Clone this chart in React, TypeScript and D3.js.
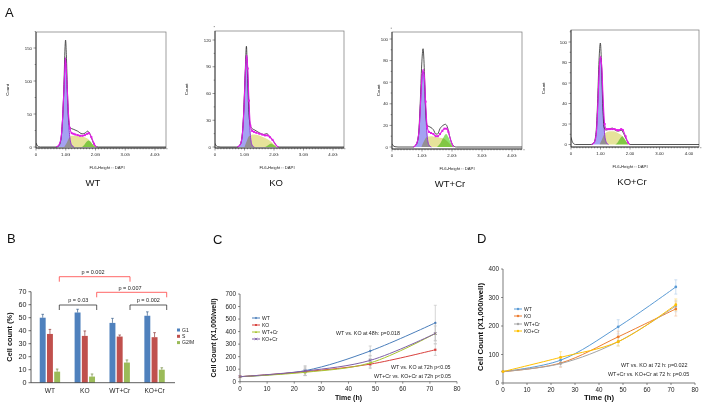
import React from 'react';
import * as d3 from 'd3';

type Pt = [number, number];
const FONT = 'Liberation Sans, Arial, Helvetica, sans-serif';

// ================= Panel A: cell-cycle histograms =================
const histGroups = ['WT', 'KO', 'WT+Cr', 'KO+Cr'];
const histXLabel = 'FL6-Height :: DAPI';
const histXTickLabelsG = ['0', '1.0G', '2.0G', '3.0G', '4.0G'];
const histXTickLabels0 = ['0', '1.00', '2.00', '3.00', '4.00'];
const histYTicksWT = [0, 50, 100, 150];
const histYTicksKO = [0, 30, 60, 90, 120];
const histYTicksWTCr = [0, 20, 40, 60, 80, 100];
const histYTicksKOCr = [0, 20, 40, 60, 80, 100];

const rawWT: Pt[] = [[0, 6], [0.03, 3], [0.08, 0.5], [0.15, 0], [0.68, 0], [0.77, 2], [0.84, 12], [0.89, 40], [0.94, 95], [0.975, 150], [0.995, 162], [1.02, 140], [1.06, 80], [1.1, 40], [1.15, 29], [1.25, 27], [1.4, 24], [1.55, 20], [1.65, 21], [1.73, 24], [1.8, 21], [1.88, 12], [1.95, 4], [2.03, 0.5], [2.1, 0], [4.4, 0]];
const g1WT: Pt[] = [[0.68, 0], [0.77, 3], [0.84, 13], [0.89, 40], [0.94, 88], [0.99, 135], [1.04, 92], [1.09, 42], [1.14, 14], [1.2, 3], [1.28, 0]];
const sWT: Pt[] = [[0.95, 0], [1.03, 6], [1.1, 13], [1.2, 17], [1.4, 17], [1.6, 15], [1.75, 12], [1.85, 7], [1.95, 2], [2.02, 0]];
const g2WT: Pt[] = [[1.55, 0], [1.62, 3], [1.7, 8], [1.77, 10], [1.84, 8], [1.9, 4], [1.97, 1], [2.03, 0]];
const fitWT: Pt[] = [[0.68, 0], [0.77, 3], [0.84, 13], [0.89, 40], [0.94, 88], [0.99, 135], [1.04, 98], [1.09, 52], [1.14, 28], [1.2, 21], [1.26, 20], [1.32, 19], [1.4, 18], [1.48, 17], [1.56, 17], [1.64, 18], [1.72, 20], [1.78, 21], [1.86, 15], [1.95, 5], [2.03, 0]];

const rawKO: Pt[] = [[0, 4], [0.03, 2], [0.1, 0.3], [0.2, 0], [0.74, 0], [0.84, 2], [0.91, 10], [0.97, 38], [1.02, 80], [1.065, 113], [1.1, 82], [1.145, 42], [1.19, 25], [1.25, 21], [1.35, 19], [1.5, 16], [1.65, 14], [1.75, 15], [1.85, 12], [1.95, 8], [2.03, 4], [2.1, 1], [2.17, 0], [4.4, 0]];
const g1KO: Pt[] = [[0.76, 0], [0.86, 3], [0.93, 15], [0.99, 50], [1.03, 85], [1.07, 103], [1.11, 83], [1.15, 45], [1.2, 13], [1.26, 2], [1.33, 0]];
const sKO: Pt[] = [[1.0, 0], [1.08, 7], [1.15, 12], [1.3, 14], [1.5, 13], [1.7, 10], [1.9, 6], [2.0, 3], [2.1, 0]];
const g2KO: Pt[] = [[1.7, 0], [1.8, 2], [1.9, 4], [2.0, 2], [2.08, 0]];
const fitKO: Pt[] = [[0.76, 0], [0.86, 3], [0.93, 15], [0.99, 50], [1.03, 85], [1.07, 103], [1.11, 88], [1.15, 52], [1.2, 24], [1.26, 18], [1.32, 17], [1.4, 16], [1.5, 15], [1.6, 14], [1.7, 13], [1.78, 13], [1.86, 11], [1.95, 8], [2.03, 4], [2.1, 1], [2.16, 0]];

const rawWTCr: Pt[] = [[0, 3], [0.03, 1.5], [0.1, 0.3], [0.2, 0], [0.7, 0], [0.8, 2], [0.88, 10], [0.94, 40], [0.99, 76], [1.035, 91], [1.08, 70], [1.12, 36], [1.17, 20], [1.23, 19], [1.3, 18], [1.38, 16], [1.46, 12], [1.52, 12], [1.6, 17], [1.7, 20], [1.78, 21], [1.84, 19], [1.92, 10], [2.0, 3], [2.08, 0.5], [2.15, 0], [4.4, 0]];
const g1WTCr: Pt[] = [[0.72, 0], [0.82, 3], [0.9, 15], [0.96, 45], [1.0, 64], [1.04, 70], [1.08, 60], [1.12, 35], [1.17, 11], [1.23, 2], [1.31, 0]];
const sWTCr: Pt[] = [[0.98, 0], [1.06, 5], [1.15, 9], [1.3, 10], [1.5, 9], [1.7, 8], [1.85, 5], [1.95, 2], [2.02, 0]];
const g2WTCr: Pt[] = [[1.5, 0], [1.6, 3], [1.7, 8], [1.8, 12], [1.88, 9], [1.96, 4], [2.05, 0]];
const fitWTCr: Pt[] = [[0.72, 0], [0.82, 3], [0.9, 15], [0.96, 46], [1.0, 66], [1.04, 72], [1.08, 65], [1.12, 42], [1.17, 19], [1.23, 14], [1.3, 13], [1.38, 12], [1.46, 10], [1.53, 10], [1.6, 12], [1.68, 15], [1.75, 17], [1.82, 17], [1.88, 14], [1.96, 6], [2.05, 0]];

const rawKOCr: Pt[] = [[0, 7], [0.03, 4], [0.08, 1], [0.15, 0], [0.68, 0], [0.78, 2], [0.85, 12], [0.9, 40], [0.95, 82], [0.995, 99], [1.03, 82], [1.075, 40], [1.12, 17], [1.18, 14], [1.28, 15], [1.4, 16], [1.5, 14], [1.6, 13], [1.7, 14], [1.78, 11], [1.86, 6], [1.93, 2], [2.0, 0], [4.4, 0]];
const g1KOCr: Pt[] = [[0.7, 0], [0.79, 2], [0.86, 12], [0.91, 40], [0.955, 72], [1.0, 85], [1.045, 70], [1.09, 36], [1.14, 10], [1.2, 2], [1.27, 0]];
const sKOCr: Pt[] = [[0.97, 0], [1.05, 5], [1.15, 11], [1.3, 13], [1.45, 13], [1.6, 11], [1.75, 8], [1.85, 4], [1.93, 1], [2.0, 0]];
const g2KOCr: Pt[] = [[1.5, 0], [1.58, 2], [1.67, 6], [1.74, 8], [1.8, 6], [1.87, 3], [1.95, 0]];
const fitKOCr: Pt[] = [[0.7, 0], [0.79, 2], [0.86, 12], [0.91, 40], [0.955, 72], [1.0, 86], [1.045, 75], [1.09, 44], [1.14, 20], [1.2, 15], [1.26, 15], [1.32, 15], [1.4, 15], [1.48, 15], [1.56, 14], [1.63, 14], [1.7, 15], [1.76, 14], [1.85, 8], [1.93, 2], [2.0, 0]];

// ================= Panel B: bar chart =================
const barCats = ['WT', 'KO', 'WT+Cr', 'KO+Cr'];
const barSeries = ['G1', 'S', 'G2/M'];
const barColors = ['#4f81bd', '#c0504d', '#9bbb59'];
const g1Vals = [50, 54, 46, 51.5];
const g1Errs = [2.6, 2.5, 3.5, 3];
const sVals = [37.5, 36, 35.5, 35];
const sErrs = [3.5, 3.8, 1.2, 3.5];
const g2Vals = [8.5, 4.7, 15.5, 10];
const g2Errs = [2, 2, 2, 1.5];
const barYTicks = [0, 10, 20, 30, 40, 50, 60, 70];

// ================= Panel C: growth curves =================
const timesC = [0, 24, 48, 72];
const seriesNames = ['WT', 'KO', 'WT+Cr', 'KO+Cr'];
const wtC = [40, 88, 245, 470];
const koC = [40, 80, 140, 255];
const wtCrC = [40, 75, 150, 385];
const koCrC = [40, 85, 170, 385];
const wtCErr = [0, 40, 40, 140];
const koCErr = [0, 30, 35, 45];
const wtCrCErr = [0, 25, 35, 60];
const koCrCErr = [0, 35, 40, 80];
const colorsC = ['#4a7ebb', '#d9403c', '#a8c430', '#7e5fa6'];
const yTicksC = [0, 100, 200, 300, 400, 500, 600, 700];
const xTicksLine = [0, 10, 20, 30, 40, 50, 60, 70, 80];
const notesC = ['WT vs. KO at 48h: p=0.018', 'WT vs. KO at 72h p<0.05', 'WT+Cr vs. KO+Cr at 72h p<0.05'];

// ================= Panel D: growth curves =================
const timesD = [0, 24, 48, 72];
const wtD = [40, 80, 197, 337];
const koD = [40, 70, 162, 260];
const wtCrD = [40, 68, 145, 270];
const koCrD = [40, 90, 145, 275];
const wtDErr = [0, 12, 25, 25];
const koDErr = [0, 15, 20, 25];
const wtCrDErr = [0, 10, 15, 20];
const koCrDErr = [0, 20, 15, 20];
const colorsD = ['#5b9bd5', '#ed7d31', '#a5a5a5', '#ffc000'];
const yTicksD = [0, 100, 200, 300, 400];
const notesD = ['WT vs. KO at 72 h: p=0.022', 'WT+Cr vs. KO+Cr at 72 h: p=0.05'];

// ---------------- Histogram component ----------------
type HistCfg = {
  name: string; raw: Pt[]; g1: Pt[]; s: Pt[]; g2: Pt[]; fit: Pt[]; yTicks: number[]; xLabels: string[];
  fx0: number; fx1: number; fy0: number; fy1: number; x0: number; x4: number; y0: number; yTopPos: number;
  countX: number; labelX: number; subX: number; idx: number;
};

function Hist({ c }: { c: HistCfg }) {
  const x = d3.scaleLinear().domain([0, 4]).range([c.x0, c.x4]);
  const top = c.yTicks[c.yTicks.length - 1];
  const y = d3.scaleLinear().domain([0, top]).range([c.y0, c.yTopPos]);
  const area = d3.area<Pt>().x(d => x(d[0])).y0(y(0)).y1(d => y(d[1])).curve(d3.curveMonotoneX);
  const line = d3.line<Pt>().x(d => x(d[0])).y(d => y(d[1])).curve(d3.curveMonotoneX);
  const clipId = `hclip${c.idx}`;
  const minorX = d3.range(0, 4.41, 0.1);
  const step = c.yTicks[1] - c.yTicks[0];
  const minorY = d3.range(0, top + step * 0.6, step / 2);
  const mid = (c.fy0 + c.fy1) / 2;
  return (
    <g>
      <defs>
        <clipPath id={clipId}><rect x={c.fx0} y={c.fy0} width={c.fx1 - c.fx0} height={c.fy1 - c.fy0} /></clipPath>
      </defs>
      <rect x={c.fx0} y={c.fy0} width={c.fx1 - c.fx0} height={c.fy1 - c.fy0} fill="#fff" stroke="#777" strokeWidth={0.7} />
      <g clipPath={`url(#${clipId})`}>
        <path d={area(c.s) || ''} fill="#e6e39a" style={{ mixBlendMode: 'multiply' }} />
        <path d={area(c.g2) || ''} fill="#8fe070" style={{ mixBlendMode: 'multiply' }} />
        <path d={area(c.g1) || ''} fill="#a4a2f2" style={{ mixBlendMode: 'multiply' }} />
        <path d={line(c.g1) || ''} fill="none" stroke="#9a2fd6" strokeWidth={1.0} />
        <path d={line(c.raw) || ''} fill="none" stroke="#2a2a2a" strokeWidth={0.8} />
        <path d={line(c.fit) || ''} fill="none" stroke="#e11ee6" strokeWidth={1.1} />
        {c.fit.filter(p => p[0] >= 1.1 && p[0] <= 1.95).map((p, i) => (
          <rect key={i} x={x(p[0]) - 1} y={y(p[1]) - 1} width={2} height={2} fill="#e11ee6" />
        ))}
      </g>
      {/* axes */}
      <line x1={c.fx0} x2={c.fx0} y1={c.fy0} y2={c.fy1} stroke="#222" strokeWidth={0.8} />
      <line x1={c.fx0} x2={c.fx1} y1={c.fy1} y2={c.fy1} stroke="#222" strokeWidth={0.8} />
      {minorX.map((v, i) => (
        <line key={`mx${i}`} x1={x(v)} x2={x(v)} y1={c.fy1} y2={c.fy1 + (Math.abs(v - Math.round(v)) < 1e-6 ? 2.5 : 1.3)} stroke="#333" strokeWidth={0.5} />
      ))}
      {minorY.map((v, i) => (
        <line key={`my${i}`} x1={c.fx0} x2={c.fx0 - (i % 2 === 0 ? 2.5 : 1.3)} y1={y(v)} y2={y(v)} stroke="#333" strokeWidth={0.5} />
      ))}
      {c.yTicks.map(v => (
        <text key={`yt${v}`} x={c.fx0 - 4} y={y(v) + 1.5} fontSize={4.3} textAnchor="end" fill="#222" fontFamily={FONT}>{v}</text>
      ))}
      {c.xLabels.map((t, i) => (
        <text key={`xt${i}`} x={x(i)} y={c.fy1 + 7.5} fontSize={4.3} textAnchor="middle" fill="#222" fontFamily={FONT}>{t}</text>
      ))}
      <text x={c.subX} y={c.fy1 + 21} fontSize={4.2} textAnchor="middle" fill="#222" fontFamily={FONT}>{histXLabel}</text>
      <text transform={`translate(${c.countX},${mid}) rotate(-90)`} fontSize={4.4} textAnchor="middle" fill="#222" fontFamily={FONT}>Count</text>
      <text x={c.labelX} y={c.fy1 + 38} fontSize={9.5} textAnchor="middle" fill="#111" fontFamily={FONT}>{c.name}</text>
    </g>
  );
}

// ---------------- Line chart component ----------------
type LineCfg = {
  xr: [number, number]; yr: [number, number]; yDomain: number; yTicks: number[];
  times: number[]; series: number[][]; errs: number[][]; colors: string[]; errColors: string[];
  fs: number; titleFs: number; titleX: number; titleY: number; timeY: number;
  legX: number; legY: number[]; legFs: number; notes: string[]; noteX: number[]; noteY: number[]; noteFs: number;
  markers: string[];
};

function Marker({ type, cx, cy, color, s }: { type: string; cx: number; cy: number; color: string; s: number }) {
  if (type === 'diamond') return <path d={`M${cx},${cy - s} L${cx + s},${cy} L${cx},${cy + s} L${cx - s},${cy} Z`} fill={color} />;
  if (type === 'square') return <rect x={cx - s * 0.8} y={cy - s * 0.8} width={s * 1.6} height={s * 1.6} fill={color} />;
  if (type === 'triangle') return <path d={`M${cx},${cy - s} L${cx + s},${cy + s * 0.8} L${cx - s},${cy + s * 0.8} Z`} fill={color} />;
  if (type === 'x') return <path d={`M${cx - s},${cy - s} L${cx + s},${cy + s} M${cx - s},${cy + s} L${cx + s},${cy - s}`} stroke={color} strokeWidth={0.8} />;
  return <circle cx={cx} cy={cy} r={s} fill={color} />;
}

function LineChart({ c }: { c: LineCfg }) {
  const x = d3.scaleLinear().domain([0, 80]).range(c.xr);
  const y = d3.scaleLinear().domain([0, c.yDomain]).range(c.yr);
  const line = d3.line<number>().x((_, i) => x(c.times[i])).y(d => y(d)).curve(d3.curveCatmullRom.alpha(0.5));
  return (
    <g fontFamily={FONT}>
      {c.series.map((s, si) => s.map((v, i) => c.errs[si][i] > 0 ? (
        <g key={`e${si}-${i}`} stroke={c.errColors[si]} strokeWidth={0.7}>
          <line x1={x(c.times[i])} x2={x(c.times[i])} y1={y(v - c.errs[si][i])} y2={y(v + c.errs[si][i])} />
          <line x1={x(c.times[i]) - 1.5} x2={x(c.times[i]) + 1.5} y1={y(v - c.errs[si][i])} y2={y(v - c.errs[si][i])} />
          <line x1={x(c.times[i]) - 1.5} x2={x(c.times[i]) + 1.5} y1={y(v + c.errs[si][i])} y2={y(v + c.errs[si][i])} />
        </g>
      ) : null))}
      <line x1={c.xr[0]} x2={c.xr[0]} y1={c.yr[0]} y2={c.yr[1]} stroke="#444" strokeWidth={0.7} />
      <line x1={c.xr[0]} x2={c.xr[1]} y1={c.yr[0]} y2={c.yr[0]} stroke="#444" strokeWidth={0.7} />
      {c.yTicks.map(v => (
        <g key={`y${v}`}>
          <line x1={c.xr[0] - 2} x2={c.xr[0]} y1={y(v)} y2={y(v)} stroke="#444" strokeWidth={0.6} />
          <text x={c.xr[0] - 4} y={y(v) + c.fs * 0.35} fontSize={c.fs} textAnchor="end" fill="#222">{v}</text>
        </g>
      ))}
      {xTicksLine.map(v => (
        <g key={`x${v}`}>
          <line x1={x(v)} x2={x(v)} y1={c.yr[0]} y2={c.yr[0] + 2} stroke="#444" strokeWidth={0.6} />
          <text x={x(v)} y={c.yr[0] + 3 + c.fs} fontSize={c.fs} textAnchor="middle" fill="#222">{v}</text>
        </g>
      ))}
      <text x={(c.xr[0] + c.xr[1]) / 2} y={c.timeY} fontSize={c.titleFs} fontWeight="bold" textAnchor="middle" fill="#111">Time (h)</text>
      <text transform={`translate(${c.titleX},${c.titleY}) rotate(-90)`} fontSize={c.titleFs} fontWeight="bold" textAnchor="middle" fill="#111">Cell Count (X1,000/well)</text>
      {c.series.map((s, si) => (
        <g key={`l${si}`}>
          <path d={line(s) || ''} fill="none" stroke={c.colors[si]} strokeWidth={1} />
          {s.map((v, i) => <Marker key={i} type={c.markers[si]} cx={x(c.times[i])} cy={y(v)} color={c.colors[si]} s={1.4} />)}
        </g>
      ))}
      {seriesNames.map((n, i) => (
        <g key={`lg${i}`}>
          <line x1={c.legX} x2={c.legX + 8} y1={c.legY[i]} y2={c.legY[i]} stroke={c.colors[i]} strokeWidth={1} />
          <Marker type={c.markers[i]} cx={c.legX + 4} cy={c.legY[i]} color={c.colors[i]} s={1.2} />
          <text x={c.legX + 10} y={c.legY[i] + c.legFs * 0.35} fontSize={c.legFs} fill="#222">{n}</text>
        </g>
      ))}
      {c.notes.map((t, i) => (
        <text key={`n${i}`} x={c.noteX[i]} y={c.noteY[i]} fontSize={c.noteFs} fill="#222">{t}</text>
      ))}
    </g>
  );
}

// ---------------- Bar chart ----------------
function BarChart() {
  const x = d3.scaleBand<string>().domain(barCats).range([32.5, 172]);
  const inner = d3.scaleBand<string>().domain(barSeries).range([-10.2, 10.2]).paddingInner(0.18);
  const y = d3.scaleLinear().domain([0, 70]).range([382.7, 291.7]);
  const vals = [g1Vals, sVals, g2Vals];
  const errs = [g1Errs, sErrs, g2Errs];
  const dark = ['#385d8a', '#8c3836', '#71893f'];
  const brackets = [
    { x1: 59.3, x2: 130, yb: 276.7, col: '#ff4040', label: 'p = 0.002', tx: 93, ty: 274.3 },
    { x1: 96.7, x2: 166.7, yb: 292.3, col: '#ff4040', label: 'p = 0.007', tx: 130, ty: 290 },
    { x1: 59.3, x2: 96.7, yb: 305, col: '#333', label: 'p = 0.03', tx: 78.3, ty: 302.2 },
    { x1: 130, x2: 166.7, yb: 305, col: '#333', label: 'p = 0.002', tx: 148.3, ty: 302.2 },
  ];
  return (
    <g fontFamily={FONT}>
      {barCats.map((cat, ci) => barSeries.map((s, si) => {
        const bx = (x(cat) || 0) + x.bandwidth() / 2 + (inner(s) || 0);
        const v = vals[si][ci];
        const e = errs[si][ci];
        const cx = bx + inner.bandwidth() / 2;
        return (
          <g key={`${cat}-${s}`}>
            <rect x={bx} y={y(v)} width={inner.bandwidth()} height={y(0) - y(v)} fill={barColors[si]} />
            <line x1={cx} x2={cx} y1={y(v)} y2={y(v + e)} stroke={dark[si]} strokeWidth={0.7} />
            <line x1={cx - 1.3} x2={cx + 1.3} y1={y(v + e)} y2={y(v + e)} stroke={dark[si]} strokeWidth={0.7} />
          </g>
        );
      }))}
      <line x1={31} x2={31} y1={291.7} y2={382.7} stroke="#333" strokeWidth={0.8} />
      <line x1={31} x2={175} y1={382.7} y2={382.7} stroke="#333" strokeWidth={0.8} />
      {barYTicks.map(v => (
        <g key={v}>
          <line x1={28.5} x2={31} y1={y(v)} y2={y(v)} stroke="#333" strokeWidth={0.7} />
          <text x={26.5} y={y(v) + 2.5} fontSize={7.2} textAnchor="end" fill="#222">{v}</text>
        </g>
      ))}
      {barCats.map(cat => (
        <text key={cat} x={(x(cat) || 0) + x.bandwidth() / 2} y={393} fontSize={6.6} textAnchor="middle" fill="#222">{cat}</text>
      ))}
      <text transform="translate(12,337) rotate(-90)" fontSize={7.4} fontWeight="bold" textAnchor="middle" fill="#111">Cell count (%)</text>
      {barSeries.map((s, i) => (
        <g key={s}>
          <rect x={177} y={328.5 + i * 6.3} width={3} height={3} fill={barColors[i]} />
          <text x={182} y={331.5 + i * 6.3} fontSize={5} fill="#222">{s}</text>
        </g>
      ))}
      {brackets.map((b, i) => (
        <g key={i}>
          <path d={`M${b.x1},${b.yb + 5} V${b.yb} H${b.x2} V${b.yb + 5}`} fill="none" stroke={b.col} strokeWidth={0.8} />
          <text x={b.tx} y={b.ty} fontSize={5.5} textAnchor="middle" fill="#222">{b.label}</text>
        </g>
      ))}
    </g>
  );
}

export default function App() {
  const geoms = [
    { fx0: 36, fx1: 166, fy0: 32, fy1: 148, x0: 36, x4: 155, y0: 147, yTopPos: 48, countX: 8.5, labelX: 93, subX: 107 },
    { fx0: 215, fx1: 344, fy0: 31, fy1: 148, x0: 215, x4: 333, y0: 147, yTopPos: 40, countX: 187.5, labelX: 276, subX: 277 },
    { fx0: 392, fx1: 522, fy0: 32, fy1: 149, x0: 392, x4: 512, y0: 147, yTopPos: 39, countX: 380, labelX: 450, subX: 457 },
    { fx0: 571, fx1: 699, fy0: 30, fy1: 147, x0: 571, x4: 689, y0: 144.5, yTopPos: 42, countX: 544.5, labelX: 632, subX: 630 },
  ];
  const data = [
    { raw: rawWT, g1: g1WT, s: sWT, g2: g2WT, fit: fitWT, yTicks: histYTicksWT, xLabels: histXTickLabelsG },
    { raw: rawKO, g1: g1KO, s: sKO, g2: g2KO, fit: fitKO, yTicks: histYTicksKO, xLabels: histXTickLabelsG },
    { raw: rawWTCr, g1: g1WTCr, s: sWTCr, g2: g2WTCr, fit: fitWTCr, yTicks: histYTicksWTCr, xLabels: histXTickLabelsG },
    { raw: rawKOCr, g1: g1KOCr, s: sKOCr, g2: g2KOCr, fit: fitKOCr, yTicks: histYTicksKOCr, xLabels: histXTickLabels0 },
  ];
  const cfgC: LineCfg = {
    xr: [240, 457], yr: [381.7, 294], yDomain: 700, yTicks: yTicksC, times: timesC,
    series: [wtC, koC, wtCrC, koCrC], errs: [wtCErr, koCErr, wtCrCErr, koCrCErr], colors: colorsC,
    errColors: ['#c4c4c4', '#c4c4c4', '#c4c4c4', '#c4c4c4'],
    fs: 6.3, titleFs: 7, titleX: 216, titleY: 338, timeY: 400,
    legX: 252, legY: [318, 325, 332, 339], legFs: 5, notes: notesC,
    noteX: [336, 391, 374], noteY: [335, 369, 378], noteFs: 5.3,
    markers: ['diamond', 'square', 'triangle', 'x'],
  };
  const cfgD: LineCfg = {
    xr: [503, 695], yr: [383, 269], yDomain: 400, yTicks: yTicksD, times: timesD,
    series: [wtD, koD, wtCrD, koCrD], errs: [wtDErr, koDErr, wtCrDErr, koCrDErr], colors: colorsD,
    errColors: ['#b8d2ee', '#f5c4a2', '#d4d4d4', '#ffe08a'],
    fs: 6.3, titleFs: 7.8, titleX: 483, titleY: 327, timeY: 400,
    legX: 514, legY: [309, 316, 324, 331], legFs: 5, notes: notesD,
    noteX: [621, 608], noteY: [367, 376], noteFs: 5.4,
    markers: ['circle', 'circle', 'circle', 'circle'],
  };
  return (
    <svg width={704} height={407} style={{ position: 'absolute', left: 0, top: 0, background: '#fff' }}>
      <rect width={704} height={407} fill="#fff" />
      <g fontFamily={FONT} fill="#111">
        <text x={5} y={17} fontSize={13}>A</text>
        <text x={7} y={243} fontSize={13}>B</text>
        <text x={213} y={244} fontSize={13}>C</text>
        <text x={477} y={243} fontSize={13}>D</text>
      </g>
      {geoms.map((g, i) => (
        <Hist key={i} c={{ ...g, ...data[i], name: histGroups[i], idx: i }} />
      ))}
      <BarChart />
      <LineChart c={cfgC} />
      <LineChart c={cfgD} />
    </svg>
  );
}
